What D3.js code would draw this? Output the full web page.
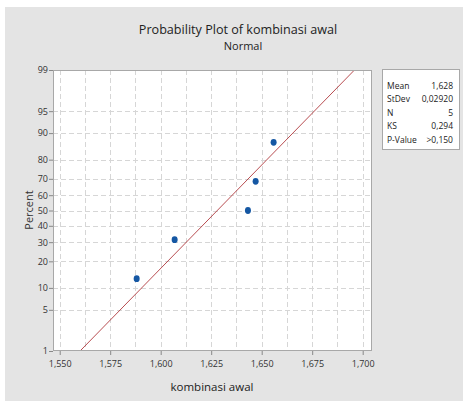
<!DOCTYPE html>
<html>
<head>
<meta charset="utf-8">
<script src="https://cdn.jsdelivr.net/npm/d3@7"></script>
<style>
  body { margin: 0; background: #fff; }
  text { font-family: "Open Sans", "Noto Sans", sans-serif; }
</style>
</head>
<body>
<div id="chart"></div>
<script>
// data
const values = [1.5881, 1.6069, 1.6432, 1.6470, 1.6559];
const percents = [12.96, 31.48, 50, 68.52, 87.04];
const xTicks = [1.550, 1.575, 1.600, 1.625, 1.650, 1.675, 1.700];
const yTicks = [1, 5, 10, 20, 30, 40, 50, 60, 70, 80, 90, 95, 99];
const statLabels = ['Mean', 'StDev', 'N', 'KS', 'P-Value'];
const statValues = ['1,628', '0,02920', '5', '0,294', '>0,150'];
const fitMean = 1.628, fitSd = 0.02920;

const w = 463, h = 401;

// inverse normal cdf (Acklam)
function probit(p) {
  const a = [-39.69683028665376, 220.9460984245205, -275.9285104469687, 138.3577518672690, -30.66479806614716, 2.506628277459239];
  const b = [-54.47609879822406, 161.5858368580409, -155.6989798598866, 66.80131188771972, -13.28068155288572];
  const c = [-0.007784894002430293, -0.3223964580411365, -2.400758277161838, -2.549732539343734, 4.374664141464968, 2.938163982698783];
  const d = [0.007784695709041462, 0.3224671290700398, 2.445134137142996, 3.754408661907416];
  const pl = 0.02425;
  let q, r;
  if (p < pl) {
    q = Math.sqrt(-2 * Math.log(p));
    return (((((c[0]*q+c[1])*q+c[2])*q+c[3])*q+c[4])*q+c[5]) / ((((d[0]*q+d[1])*q+d[2])*q+d[3])*q+1);
  } else if (p <= 1 - pl) {
    q = p - 0.5; r = q * q;
    return (((((a[0]*r+a[1])*r+a[2])*r+a[3])*r+a[4])*r+a[5])*q / (((((b[0]*r+b[1])*r+b[2])*r+b[3])*r+b[4])*r+1);
  }
  q = Math.sqrt(-2 * Math.log(1 - p));
  return -(((((c[0]*q+c[1])*q+c[2])*q+c[3])*q+c[4])*q+c[5]) / ((((d[0]*q+d[1])*q+d[2])*q+d[3])*q+1);
}

const locale = d3.formatLocale({decimal: ',', thousands: '.', grouping: [3], currency: ['', '']});
const fmt = locale.format('.3f');

const m = {left: 53, right: 372, top: 70, bottom: 351};

const x = d3.scaleLinear().domain([1.54668, 1.70461]).range([m.left, m.right]);
const zy = d3.scaleLinear().domain([probit(0.01), probit(0.99)]).range([m.bottom, m.top]);
const y = p => zy(probit(p / 100));

const svg = d3.select('#chart').append('svg')
  .attr('width', w)
  .attr('height', h);

svg.append('rect')
  .attr('x', 5).attr('y', 7)
  .attr('width', w - 5).attr('height', h - 7)
  .attr('fill', '#e4e4e4');

// plot panel
svg.append('rect')
  .attr('x', m.left).attr('y', m.top)
  .attr('width', m.right - m.left).attr('height', m.bottom - m.top)
  .attr('fill', '#fff');

// grid
const grid = svg.append('g')
  .attr('stroke', '#d6d6d6')
  .attr('stroke-dasharray', '5,3')
  .attr('stroke-width', 1);

grid.selectAll('line.v')
  .data(d3.range(0, 13).map(i => 1.55 + i * 0.0125))
  .join('line')
  .attr('x1', d => Math.round(x(d)) + 0.5)
  .attr('x2', d => Math.round(x(d)) + 0.5)
  .attr('y1', m.top)
  .attr('y2', m.bottom);

grid.selectAll('line.h')
  .data(yTicks.slice(1, -1))
  .join('line')
  .attr('y1', d => Math.round(y(d)) + 0.5)
  .attr('y2', d => Math.round(y(d)) + 0.5)
  .attr('x1', m.left)
  .attr('x2', m.right);

// fitted line
svg.append('line')
  .attr('x1', x(fitMean + probit(0.01) * fitSd))
  .attr('y1', y(1))
  .attr('x2', x(fitMean + probit(0.99) * fitSd))
  .attr('y2', y(99))
  .attr('stroke', '#ab2e33')
  .attr('stroke-opacity', 0.85)
  .attr('stroke-width', 1);

// points
svg.append('g')
  .selectAll('ellipse')
  .data(values.map((v, i) => [v, percents[i]]))
  .join('ellipse')
  .attr('cx', d => x(d[0]))
  .attr('cy', d => y(d[1]))
  .attr('rx', 3)
  .attr('ry', 3.4)
  .attr('fill', '#1557a3');

// frame
svg.append('rect')
  .attr('x', m.left + 0.5).attr('y', m.top + 0.5)
  .attr('width', m.right - m.left - 1).attr('height', m.bottom - m.top - 1)
  .attr('fill', 'none')
  .attr('stroke', '#a8a8a8');

// axes
const xAxis = svg.append('g')
  .attr('transform', `translate(0,${m.bottom})`)
  .call(d3.axisBottom(x).tickValues(xTicks).tickFormat(fmt).tickSize(4).tickSizeOuter(0));
const yAxis = svg.append('g')
  .attr('transform', `translate(${m.left},0)`)
  .call(d3.axisLeft(zy).tickValues(yTicks.map(d => probit(d / 100))).tickFormat((d, i) => yTicks[i]).tickSize(4).tickSizeOuter(0));

[xAxis, yAxis].forEach(a => {
  a.select('.domain').remove();
  a.selectAll('line').attr('stroke', '#888');
  a.selectAll('text')
    .attr('fill', '#333')
    .style('font-size', '9px')
    .style('font-family', '"Open Sans", sans-serif');
});
xAxis.selectAll('text').attr('dy', '0.95em');
yAxis.selectAll('text').attr('x', -5);

// titles
svg.append('text')
  .attr('x', 238).attr('y', 34)
  .attr('text-anchor', 'middle')
  .attr('fill', '#222')
  .style('font-size', '12.6px')
  .text('Probability Plot of kombinasi awal');
svg.append('text')
  .attr('x', 243).attr('y', 50)
  .attr('text-anchor', 'middle')
  .attr('fill', '#222')
  .style('font-size', '11px')
  .text('Normal');

svg.append('text')
  .attr('x', 212).attr('y', 391)
  .attr('text-anchor', 'middle')
  .attr('fill', '#222')
  .style('font-size', '11.5px')
  .text('kombinasi awal');

svg.append('text')
  .attr('transform', 'translate(33,210) rotate(-90)')
  .attr('text-anchor', 'middle')
  .attr('fill', '#333')
  .style('font-size', '11px')
  .text('Percent');

// stats box
const box = svg.append('g');
box.append('rect')
  .attr('x', 382.5).attr('y', 69.5)
  .attr('width', 77).attr('height', 80)
  .attr('fill', '#fff')
  .attr('stroke', '#a8a8a8');

box.selectAll('text.lab')
  .data(statLabels)
  .join('text')
  .attr('x', 387)
  .attr('y', (d, i) => 88.5 + i * 13.6)
  .attr('fill', '#222')
  .style('font-size', '8.5px')
  .text(d => d);

box.selectAll('text.val')
  .data(statValues)
  .join('text')
  .attr('x', 453)
  .attr('y', (d, i) => 88.5 + i * 13.6)
  .attr('text-anchor', 'end')
  .attr('fill', '#222')
  .style('font-size', '8.5px')
  .text(d => d);
</script>
</body>
</html>
